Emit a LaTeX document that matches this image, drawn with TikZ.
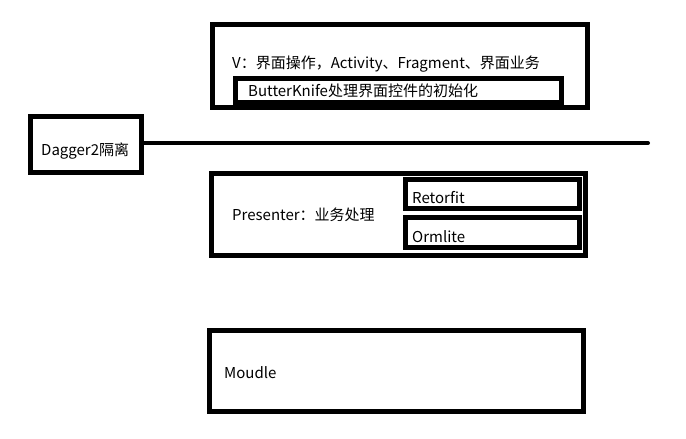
\documentclass[tikz,border=0pt]{standalone}
\usepackage{fontspec}
\setmainfont{Noto Sans CJK SC}
\begin{document}
\begin{tikzpicture}[x=1pt,y=-1pt,
  box/.style={draw=black,line width=5pt,rectangle,inner sep=0pt,outer sep=0pt,fill=none},
  lbl/.style={anchor=base west,inner sep=0pt,font=\fontsize{15}{18}\selectfont,text=black}]
\useasboundingbox[fill=white] (0,0) rectangle (686,439);
% boxes
\node[box,minimum width=375pt,minimum height=82.5pt] (v) at (399.5,65.75) {};
\node[box,minimum width=326pt,minimum height=24pt] (bk) at (398,90.5) {};
\node[box,minimum width=110.5pt,minimum height=56pt] (dagger) at (85.75,144.5) {};
\node[box,minimum width=374pt,minimum height=81.5pt] (p) at (398.5,214.25) {};
\node[box,minimum width=173.5pt,minimum height=29pt] (retro) at (492.25,194) {};
\node[box,minimum width=174pt,minimum height=30pt] (orm) at (492,232.5) {};
\node[box,minimum width=373.5pt,minimum height=81pt] (m) at (396.25,370.5) {};
% texts
\node[lbl] (vt) at (232,68) {V：界面操作，Activity、Fragment、界面业务};
\node[lbl] (bkt) at (248,96.5) {ButterKnife处理界面控件的初始化};
\node[lbl] (dt) at (41,155.5) {Dagger2隔离};
\node[lbl] (pt) at (232,220) {Presenter：业务处理};
\node[lbl] (rt) at (412,203.3) {Retorfit};
\node[lbl] (ot) at (412,242.3) {Ormlite};
\node[lbl] (mt) at (224,378.3) {Moudle};
% separator line
\coordinate (lineend) at (648,143);
\draw[line width=4pt,line cap=round] (dagger.east |- lineend) -- (lineend);
\end{tikzpicture}
\end{document}
